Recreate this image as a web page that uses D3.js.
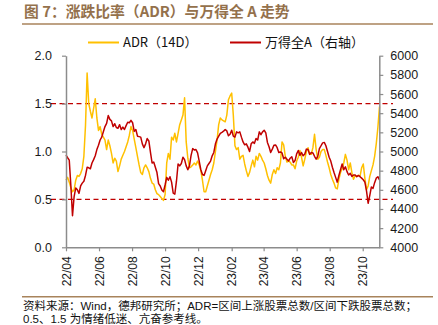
<!DOCTYPE html>
<html lang="zh-CN"><head><meta charset="utf-8">
<script src="https://cdn.jsdelivr.net/npm/d3@7"></script>
<style>
html,body{margin:0;padding:0;background:#fff;}
svg{display:block;}
</style></head>
<body>
<svg id="chart" width="438" height="325"></svg>
<script>
// ---------- data ----------
const dates = [
"2022-04-01","2022-04-04","2022-04-07","2022-04-10","2022-04-13","2022-04-16","2022-04-19","2022-04-22","2022-04-25","2022-04-28",
"2022-05-01","2022-05-04","2022-05-07","2022-05-10","2022-05-13","2022-05-16","2022-05-19","2022-05-22","2022-05-25","2022-05-28","2022-05-31",
"2022-06-03","2022-06-06","2022-06-09","2022-06-12","2022-06-15","2022-06-18","2022-06-21","2022-06-24","2022-06-27","2022-06-30",
"2022-07-03","2022-07-06","2022-07-09","2022-07-12","2022-07-15","2022-07-18","2022-07-21","2022-07-24","2022-07-27","2022-07-30",
"2022-08-02","2022-08-05","2022-08-08","2022-08-11","2022-08-14","2022-08-17","2022-08-20","2022-08-23","2022-08-26","2022-08-29",
"2022-09-01","2022-09-04","2022-09-07","2022-09-10","2022-09-13","2022-09-16","2022-09-19","2022-09-22","2022-09-25","2022-09-28",
"2022-10-01","2022-10-04","2022-10-07","2022-10-10","2022-10-13","2022-10-16","2022-10-19","2022-10-22","2022-10-25","2022-10-28","2022-10-31",
"2022-11-03","2022-11-06","2022-11-09","2022-11-12","2022-11-15","2022-11-18","2022-11-21","2022-11-24","2022-11-27","2022-11-30",
"2022-12-03","2022-12-06","2022-12-09","2022-12-12","2022-12-15","2022-12-18","2022-12-21","2022-12-24","2022-12-27","2022-12-30",
"2023-01-02","2023-01-05","2023-01-08","2023-01-11","2023-01-14","2023-01-17","2023-01-20","2023-01-23","2023-01-26","2023-01-29",
"2023-02-01","2023-02-04","2023-02-07","2023-02-10","2023-02-13","2023-02-16","2023-02-19","2023-02-22","2023-02-25","2023-02-28",
"2023-03-03","2023-03-06","2023-03-09","2023-03-12","2023-03-15","2023-03-18","2023-03-21","2023-03-24","2023-03-27","2023-03-30",
"2023-04-02","2023-04-05","2023-04-08","2023-04-11","2023-04-14","2023-04-17","2023-04-20","2023-04-23","2023-04-26","2023-04-29",
"2023-05-02","2023-05-05","2023-05-08","2023-05-11","2023-05-14","2023-05-17","2023-05-20","2023-05-23","2023-05-26","2023-05-29",
"2023-06-01","2023-06-04","2023-06-07","2023-06-10","2023-06-13","2023-06-16","2023-06-19","2023-06-22","2023-06-25","2023-06-28",
"2023-07-01","2023-07-04","2023-07-07","2023-07-10","2023-07-13","2023-07-16","2023-07-19","2023-07-22","2023-07-25","2023-07-28","2023-07-31",
"2023-08-03","2023-08-06","2023-08-09","2023-08-12","2023-08-15","2023-08-18","2023-08-21","2023-08-24","2023-08-27","2023-08-30",
"2023-09-02","2023-09-05","2023-09-08","2023-09-11","2023-09-14","2023-09-17","2023-09-20","2023-09-23","2023-09-26","2023-09-29",
"2023-10-02","2023-10-05","2023-10-08","2023-10-11","2023-10-14","2023-10-17","2023-10-20","2023-10-23","2023-10-26","2023-10-29",
"2023-11-01"
];

const adr = [
0.70,0.73,0.68,0.62,0.58,0.60,0.70,0.75,0.74,0.77,
0.82,0.95,1.27,1.82,1.50,1.42,1.35,1.45,1.55,1.35,1.22,
1.26,1.18,1.15,1.12,1.02,1.12,1.06,0.98,0.88,0.93,
0.90,0.79,0.85,0.92,0.96,1.00,1.05,1.10,1.17,1.26,
1.22,1.13,1.04,0.95,0.86,0.78,0.76,0.83,0.86,0.83,
0.79,0.72,0.67,0.66,0.60,0.56,0.55,0.53,0.51,0.49,
0.55,0.88,0.98,0.92,1.15,1.12,1.19,1.10,1.19,1.28,1.33,
1.38,1.56,1.10,0.93,0.83,0.84,0.86,0.88,0.86,0.90,
0.86,0.80,0.70,0.58,0.58,0.64,0.70,0.76,0.81,0.88,
1.00,1.12,1.28,1.35,1.33,1.32,1.31,1.38,1.54,1.58,
1.61,1.38,1.06,1.02,1.04,0.92,0.95,0.96,0.87,0.80,
0.74,0.78,0.85,0.91,0.84,0.95,0.91,0.98,0.95,0.91,
0.88,0.82,0.75,0.70,0.67,0.76,0.81,0.77,0.83,0.81,
0.88,1.10,1.07,0.95,0.89,0.90,0.89,0.86,0.86,0.82,
0.90,0.94,1.01,0.94,0.85,0.92,1.00,1.04,0.97,0.97,
1.04,1.18,1.02,0.92,0.94,1.00,1.02,1.02,0.96,0.89,0.83,
0.76,0.71,0.67,0.62,0.61,0.71,0.78,0.82,0.88,0.97,
0.91,0.81,0.88,0.78,0.71,0.75,0.74,0.75,0.74,0.83,
0.87,0.72,0.60,0.64,0.74,0.80,0.86,0.95,1.08,1.25,
1.47
];

const windA = [
4963,4935,4910,4640,4330,4530,4620,4600,4563,4640,
4670,4690,4750,4835,4830,4820,4880,4915,4955,5020,5065,
5120,5150,5207,5260,5294,5375,5335,5320,5260,5290,
5250,5242,5280,5230,5255,5230,5270,5305,5300,5325,
5300,5210,5230,5160,5155,5150,5080,5040,5080,5135,
5110,4990,4880,4890,4835,4780,4665,4640,4598,4580,
4650,4730,4700,4737,4680,4565,4555,4690,4870,4850,4875,
4940,4915,4850,4810,4850,4960,5030,5015,5020,4985,
4900,4810,4760,4750,4800,4850,4875,4900,4955,4990,
5080,5130,5160,5190,5200,5212,5230,5215,5165,5180,
5222,5160,5150,5205,5195,5205,5150,5100,5070,5080,
5045,5000,5080,5100,5085,5135,5120,5205,5175,5205,
5222,5195,5095,5050,4990,5025,5065,5068,5040,4990,
4995,4985,4925,4940,4920,4900,4930,4946,4885,4905,
4975,5010,4960,4990,4955,4975,5025,5020,4970,4990,
4985,4950,4920,4950,5030,5060,5090,5095,5060,5000,4940,
4900,4835,4780,4730,4680,4750,4810,4870,4810,4840,
4790,4755,4772,4740,4755,4755,4737,4750,4737,4722,
4705,4680,4590,4460,4540,4630,4615,4675,4722,4737,
4702
];

const leftTicks = [0, 0.5, 1.0, 1.5, 2.0];
const rightTicks = [4000,4200,4400,4600,4800,5000,5200,5400,5600,5800,6000];
const xTickDates = ["2022-04-01","2022-06-01","2022-08-01","2022-10-01","2022-12-01","2023-02-01","2023-04-01","2023-06-01","2023-08-01","2023-10-01"];
const xTickLabels = ["22/04","22/06","22/08","22/10","22/12","23/02","23/04","23/06","23/08","23/10"];
const refLines = [0.5, 1.5];
const seriesNames = ["ADR（14D）", "万得全A（右轴）"];
const titleText = "图 7：涨跌比率（ADR）与万得全 A 走势";
const noteLines = ["资料来源：Wind，德邦研究所；ADR=区间上涨股票总数/区间下跌股票总数；", "0.5、1.5 为情绪低迷、亢奋参考线。"];

// ---------- drawing ----------
const parse = d3.timeParse("%Y-%m-%d");
const D = dates.map(parse);
const svg = d3.select("#chart");
const brown = "#94714c";
const latin = "'Liberation Sans', Arial, sans-serif";
const cjk = "'Noto Sans CJK SC', 'Liberation Sans', sans-serif";
const noteFont = "'Liberation Sans', 'Noto Sans CJK SC', sans-serif";

const x = d3.scaleTime().domain([parse("2022-04-01"), parse("2023-11-01")]).range([66, 379.5]);
const yL = d3.scaleLinear().domain([0, 2]).range([247.3, 55.7]);
const yR = d3.scaleLinear().domain([4000, 6000]).range([247.3, 55.7]);

// title
svg.append("text").attr("x", 24).attr("y", 16.5)
  .attr("font-family", cjk).attr("font-size", 14.8).attr("font-weight", "bold")
  .attr("fill", brown).text(titleText);
svg.append("line").attr("x1", 22).attr("x2", 433).attr("y1", 24).attr("y2", 24)
  .attr("stroke", "#a8835b").attr("stroke-width", 1.5);

// legend
const legend = [
  {name: seriesNames[0], color: "#ffc000", x1: 88, x2: 119, tx: 123},
  {name: seriesNames[1], color: "#c00000", x1: 230, x2: 261, tx: 265}
];
legend.forEach(l => {
  svg.append("line").attr("x1", l.x1).attr("x2", l.x2).attr("y1", 42.5).attr("y2", 42.5)
    .attr("stroke", l.color).attr("stroke-width", 2);
  svg.append("text").attr("x", l.tx).attr("y", 47.3)
    .attr("font-family", cjk).attr("font-size", 13).attr("fill", "#111").text(l.name);
});

// reference dashed lines
refLines.forEach(v => {
  svg.append("line").attr("x1", 51).attr("x2", 393).attr("y1", yL(v)).attr("y2", yL(v))
    .attr("stroke", "#c00000").attr("stroke-width", 1.3).attr("stroke-dasharray", "5,3.5");
});

// lines
const lineL = d3.line().x((d, i) => x(D[i])).y(d => yL(d));
const lineR = d3.line().x((d, i) => x(D[i])).y(d => yR(d));
svg.append("path").datum(adr).attr("d", lineL).attr("fill", "none")
  .attr("stroke", "#ffc000").attr("stroke-width", 1.5).attr("stroke-linejoin", "round");
svg.append("path").datum(windA).attr("d", lineR).attr("fill", "none")
  .attr("stroke", "#c00000").attr("stroke-width", 1.5).attr("stroke-linejoin", "round");

// axes
function styleAxis(g) {
  g.select(".domain").attr("stroke", "#8c8c8c").attr("stroke-width", 1.5);
  g.selectAll(".tick line").attr("stroke", "#8c8c8c").attr("stroke-width", 1.2);
  g.selectAll(".tick text").attr("fill", "#1a1a1a").attr("font-family", latin);
}
const gL = svg.append("g").attr("transform", "translate(66,0)")
  .call(d3.axisLeft(yL).tickValues(leftTicks).tickFormat(d3.format(".1f")).tickSize(4).tickSizeOuter(0).tickPadding(10));
styleAxis(gL); gL.selectAll(".tick text").attr("font-size", 12.5);

const gR = svg.append("g").attr("transform", "translate(379.3,0)")
  .call(d3.axisRight(yR).tickValues(rightTicks).tickFormat(d3.format("d")).tickSize(4).tickSizeOuter(0).tickPadding(7));
styleAxis(gR); gR.selectAll(".tick text").attr("font-size", 12.5);

const gX = svg.append("g").attr("transform", "translate(0,247.3)")
  .call(d3.axisBottom(x).tickValues(xTickDates.map(parse)).tickFormat((d, i) => xTickLabels[i]).tickSize(4).tickSizeOuter(0));
styleAxis(gX);
gX.selectAll(".tick text").attr("font-size", 12)
  .attr("transform", "rotate(-90)").attr("x", -9).attr("y", 0).attr("dy", "0.35em")
  .style("text-anchor", "end");

// footnote
svg.append("line").attr("x1", 22).attr("x2", 433).attr("y1", 296.8).attr("y2", 296.8)
  .attr("stroke", "#a8835b").attr("stroke-width", 1.5);
noteLines.forEach((t, i) => {
  svg.append("text").attr("x", 23).attr("y", 309.6 + i * 13)
    .attr("font-family", noteFont).attr("font-size", 11.5).attr("fill", "#111").text(t);
});
</script>
</body></html>
